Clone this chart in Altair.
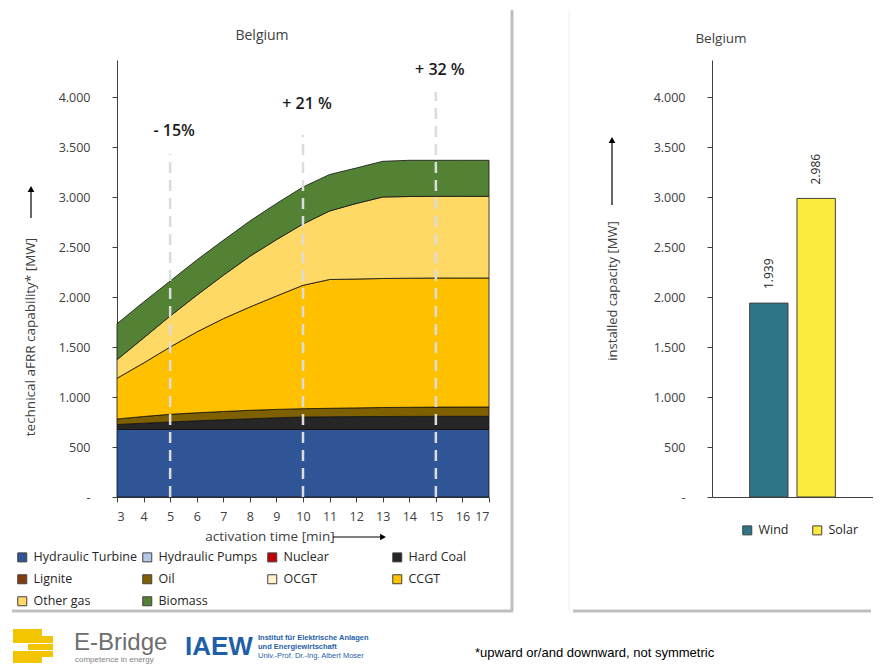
import altair as alt
import pandas as pd

# ---------------- data ----------------
minutes = [3, 4, 5, 6, 7, 8, 9, 10, 11, 12, 13, 14, 15, 16, 17]

hydraulic_turbine = [675, 675, 675, 675, 675, 675, 675, 675, 675, 675, 675, 675, 675, 675, 675]
hard_coal = [50, 63, 75, 87, 97, 107, 117, 125, 127, 129, 130, 131, 132, 132, 132]
oil = [55, 67, 77, 80, 83, 85, 84, 83, 85, 87, 90, 91, 92, 93, 93]
ccgt = [407, 535, 673, 808, 928, 1033, 1134, 1234, 1288, 1289, 1290, 1291, 1291, 1290, 1290]
other_gas = [186, 250, 310, 367, 434, 507, 563, 613, 685, 755, 815, 817, 817, 817, 817]
biomass = [360, 360, 350, 353, 350, 353, 362, 370, 365, 355, 357, 362, 360, 360, 360]

stack_series = ["Hydraulic Turbine", "Hard Coal", "Oil", "CCGT", "Other gas", "Biomass"]
stack_values = [hydraulic_turbine, hard_coal, oil, ccgt, other_gas, biomass]

legend_names = ["Hydraulic Turbine", "Hydraulic Pumps", "Nuclear", "Hard Coal",
                "Lignite", "Oil", "OCGT", "CCGT", "Other gas", "Biomass"]
legend_colors = ["#2F5597", "#B4C7E7", "#C00000", "#262626",
                 "#843C0C", "#7F6000", "#FFF2CC", "#FFC000", "#FFD966", "#548235"]

marker_minutes = [5, 10, 15]
marker_bottoms = [0, 0, 0]
marker_tops = [3430, 3620, 4050]
marker_labels = ["- 15%", "+ 21 %", "+ 32 %"]
marker_label_y = [3660, 3930, 4270]

re_names = ["Wind", "Solar"]
re_values = [1939, 2986]
re_colors = ["#2E7686", "#FAEB3C"]

y_ticks = [0, 500, 1000, 1500, 2000, 2500, 3000, 3500, 4000]

# ---------------- tables ----------------
rows = []
for i, (name, vals) in enumerate(zip(stack_series, stack_values)):
    for m, v in zip(minutes, vals):
        rows.append({"minute": m, "mw": v, "source": name, "idx": i})
df_area = pd.DataFrame(rows)
df_marker = pd.DataFrame({"minute": marker_minutes, "bottom": marker_bottoms, "top": marker_tops,
                          "label": marker_labels, "ly": marker_label_y})
df_re = pd.DataFrame({"tech": re_names, "mw": re_values})

GREY = "#404040"
FONT = "Open Sans"
label_expr = "datum.value == 0 ? '-' : replace(format(datum.value, ','), ',', '.')"
yscale = alt.Scale(domain=[0, 4370], nice=False)
xscale = alt.Scale(domain=[3, 17], nice=False, zero=False)

x_axis = alt.Axis(values=minutes, format="d", title=None, grid=False,
                  tickSize=5, labelPadding=8, labelOverlap=False, labelFontSize=12.5)
y_axis = alt.Axis(values=y_ticks, labelExpr=label_expr, title=None, grid=False,
                  tickSize=5, labelPadding=22)
bar_x_axis = alt.Axis(title=None, labels=False, ticks=False)
bar_x_scale = alt.Scale(paddingInner=0.19, paddingOuter=0.795)

one = alt.Data(values=[{"k": 1}])


def txt(text, x, y, **kw):
    return alt.Chart(one).mark_text(text=text, **kw).encode(x=alt.value(x), y=alt.value(y))


def hline(x1, x2, y, color, w):
    return alt.Chart(one).mark_rule(color=color, strokeWidth=w).encode(
        x=alt.value(x1), x2=alt.value(x2), y=alt.value(y))


def vline(x, y1, y2, color, w):
    return alt.Chart(one).mark_rule(color=color, strokeWidth=w).encode(
        x=alt.value(x), y=alt.value(y1), y2=alt.value(y2))


def box(x1, x2, y1, y2, color):
    return alt.Chart(one).mark_rect(color=color).encode(
        x=alt.value(x1), x2=alt.value(x2), y=alt.value(y1), y2=alt.value(y2))


def head(x, y, shape):
    return alt.Chart(one).mark_point(shape=shape, filled=True, color="#000", size=45, opacity=1).encode(
        x=alt.value(x), y=alt.value(y))


# ---------------- left chart ----------------
areas = alt.Chart(df_area).mark_area(stroke="#111111", strokeWidth=0.8).encode(
    x=alt.X("minute:Q", scale=xscale, axis=x_axis),
    y=alt.Y("mw:Q", stack="zero", scale=yscale, axis=y_axis),
    color=alt.Color("source:N", scale=alt.Scale(domain=legend_names, range=legend_colors),
                    legend=alt.Legend(title=None, orient="none", legendX=-101, legendY=491,
                                      columns=4, direction="horizontal",
                                      symbolType="square", symbolSize=81,
                                      symbolStrokeColor="#404040", symbolStrokeWidth=1,
                                      labelFontSize=12.5, labelColor="#262626", labelFont=FONT,
                                      columnPadding=2, rowPadding=8, labelOffset=5,
                                      gridAlign="all", labelLimit=300)),
    order=alt.Order("idx:Q", sort="ascending"),
)

dashes = alt.Chart(df_marker).mark_rule(color="#DCDCDC", strokeWidth=2.5, strokeDash=[11, 7]).encode(
    x=alt.X("minute:Q", scale=xscale, axis=x_axis),
    y=alt.Y("bottom:Q", scale=yscale, axis=y_axis), y2="top:Q")

ann = alt.Chart(df_marker).mark_text(fontSize=16, fontWeight=600, color="#1a1a1a", dx=4, font=FONT).encode(
    x=alt.X("minute:Q", scale=xscale, axis=x_axis),
    y=alt.Y("ly:Q", scale=yscale, axis=y_axis), text="label:N")

left_deco = [
    box(-109, -108, -52, -51, "#FFFFFF"),
    txt("Belgium", 145, -24, fontSize=14, color=GREY, font=FONT),
    txt("technical aFRR capability* [MW]", -86, 277, angle=270, fontSize=13.5, color=GREY, font=FONT),
    vline(-86, 158, 131, "#000", 1.2),
    head(-86, 129, "triangle-up"),
    txt("activation time [min]", 153, 477, fontSize=13.5, color=GREY, font=FONT),
    hline(216, 264, 477, "#000", 1.2),
    head(266, 477, "triangle-right"),
    vline(395, -50, 551, "#BFBFBF", 3),
    hline(-105, 396, 551, "#BFBFBF", 3),
    box(-104, -75, 569, 576, "#F2C500"),
    box(-104, -64, 576, 583, "#F2C500"),
    box(-89, -64, 584, 590, "#F2C500"),
    box(-104, -64, 591, 597, "#F2C500"),
    box(-104, -75, 597, 603, "#F2C500"),
    txt("E-Bridge", -43, 583, fontSize=24, color="#6E6E6E", font="Liberation Sans", align="left"),
    txt("competence in energy", -42, 600, fontSize=8, color="#7F7F7F", font="Liberation Sans", align="left"),
    txt("IAEW", 68, 587, fontSize=26, fontWeight="bold", color="#1F5FA8",
        font="Liberation Sans", align="left"),
    txt("Institut für Elektrische Anlagen", 141, 578, fontSize=7.5, fontWeight="bold",
        color="#1F5FA8", font="Liberation Sans", align="left"),
    txt("und Energiewirtschaft", 141, 587, fontSize=7.5, fontWeight="bold",
        color="#1F5FA8", font="Liberation Sans", align="left"),
    txt("Univ.-Prof. Dr.-Ing. Albert Moser", 141, 596, fontSize=7.5,
        color="#1F5FA8", font="Liberation Sans", align="left"),
    txt("*upward or/and downward, not symmetric", 358, 593, fontSize=13, color="#000",
        font="Liberation Sans", align="left"),
]

left = alt.layer(areas, dashes, ann, *left_deco).properties(width=372, height=437)

# ---------------- right chart ----------------
bars = alt.Chart(df_re).mark_bar(stroke="#404040", strokeWidth=1).encode(
    x=alt.X("tech:N", sort=re_names, scale=bar_x_scale, axis=bar_x_axis),
    y=alt.Y("mw:Q", scale=yscale, axis=y_axis),
    color=alt.Color("tech:N", sort=re_names, scale=alt.Scale(domain=re_names, range=re_colors),
                    legend=alt.Legend(title=None, orient="none", legendX=29, legendY=464,
                                      direction="horizontal", symbolType="square", symbolSize=81,
                                      symbolStrokeColor="#404040", symbolStrokeWidth=1,
                                      labelFontSize=12.5, labelColor="#262626", labelFont=FONT,
                                      columnPadding=21, labelOffset=5)),
)

bar_text = alt.Chart(df_re).transform_calculate(
    lbl="replace(format(datum.mw, ','), ',', '.')"
).mark_text(angle=270, align="left", baseline="middle", dx=14, fontSize=12, color="#262626", font=FONT).encode(
    x=alt.X("tech:N", sort=re_names, scale=bar_x_scale, axis=bar_x_axis),
    y=alt.Y("mw:Q", scale=yscale, axis=y_axis), text="lbl:N")

right_deco = [
    txt("Belgium", 9, -21, fontSize=13.5, color=GREY, font=FONT),
    txt("installed capacity [MW]", -99, 231, angle=270, fontSize=13, color=GREY, font=FONT),
    vline(-100, 145, 82, "#000", 1.2),
    head(-100, 80, "triangle-up"),
    hline(-139, 159, 551, "#BFBFBF", 3),
    vline(-143, -50, 551, "#F0F0F0", 1),
]

right = alt.layer(bars, bar_text, *right_deco).properties(width=161, height=437)

chart = alt.hconcat(left, right, spacing=223, bounds="flush").resolve_scale(
    color="independent"
).properties(
    padding=0,
).configure(font=FONT).configure_view(stroke=None).configure_axis(
    domainColor=GREY, tickColor=GREY, labelColor=GREY, labelFontSize=12.5, labelFont=FONT,
    domainWidth=1
)

chart.save("out.html", embed_options={"renderer": "svg", "actions": False})
